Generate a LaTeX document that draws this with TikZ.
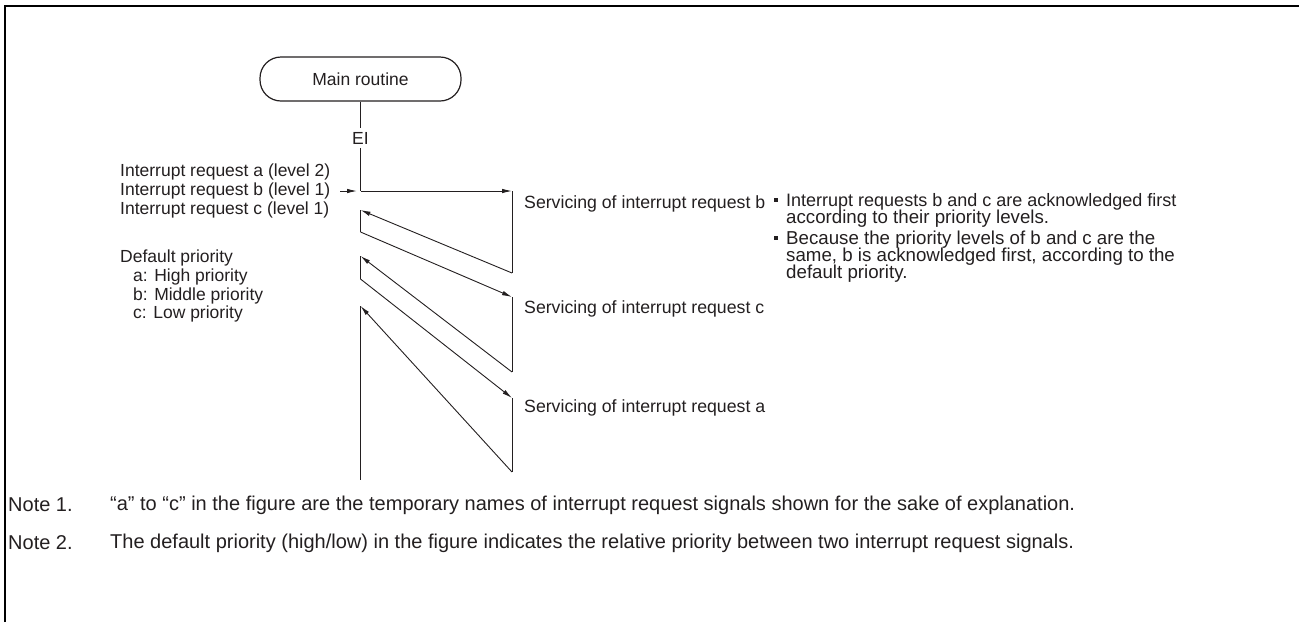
\documentclass[tikz,border=0pt]{standalone}
\usepackage{fontspec}
\setmainfont{Liberation Sans}
\usetikzlibrary{arrows.meta}
\definecolor{ink}{HTML}{231F20}
\tikzset{
  lbl/.style={anchor=west, inner sep=0pt, text=ink, font=\fontsize{17.5}{19}\selectfont},
  svc/.style={lbl, font=\fontsize{17.7}{19}\selectfont},
  bt/.style={lbl, font=\fontsize{18.7}{19}\selectfont},
  nt/.style={lbl, font=\fontsize{20}{21}\selectfont},
  ln/.style={draw=ink, line width=0.9pt},
  arr/.style={ln, -{Latex[length=10pt,width=4.5pt]}},
  frame/.style={draw=black, line width=2pt},
  bul/.style={fill=ink, minimum size=4pt, inner sep=0pt, draw=none}
}
\begin{document}
\begin{tikzpicture}[x=1pt,y=-1pt]
\useasboundingbox (0,0) rectangle (1299,622);
% frame
\draw[frame] (5,622) -- (5,6) -- (1299,6);
% main routine
\node[ln, line width=1.2pt, rounded corners=21pt, minimum width=201pt, minimum height=44pt, inner sep=0pt, text=ink, font=\fontsize{17.5}{19}\selectfont] (main) at (360.5,79) {Main routine};
\node[lbl, anchor=center, inner sep=4pt] (ei) at (360.5,138) {EI};
\coordinate (j) at (360.5,191);
\coordinate (r1t) at (512,191);
\coordinate (r1b) at (512,273);
\coordinate (l1t) at (360.5,210);
\coordinate (l1b) at (360.5,232);
\coordinate (r2t) at (512,297);
\coordinate (r2b) at (512,372);
\coordinate (l2t) at (360.5,256);
\coordinate (l2b) at (360.5,279);
\coordinate (r3t) at (512,398);
\coordinate (r3b) at (512,472);
\coordinate (l3t) at (360.5,306);
\coordinate (l3b) at (360.5,480);
\coordinate (ia) at (340,191);
\coordinate (ib) at (357,191);
% flow
\draw[ln] (main.south) -- (ei.north);
\draw[ln] (ei.south) -- (j);
\draw[arr] (j) -- (r1t);
\draw[ln] (r1t) -- (r1b);
\draw[arr] (r1b) -- (l1t);
\draw[ln] (l1t) -- (l1b);
\draw[arr] (l1b) -- (r2t);
\draw[ln] (r2t) -- (r2b);
\draw[arr] (r2b) -- (l2t);
\draw[ln] (l2t) -- (l2b);
\draw[arr] (l2b) -- (r3t);
\draw[ln] (r3t) -- (r3b);
\draw[arr] (r3b) -- (l3t);
\draw[ln] (l3t) -- (l3b);
\draw[arr] (ia) -- (ib);
% left labels
\node[lbl] (reqa) at (120,172) {Interrupt request a (level 2)};
\node[lbl] (reqb) at (120,191) {Interrupt request b (level 1)};
\node[lbl] (reqc) at (120,210) {Interrupt request c (level 1)};
\node[lbl] (dp) at (120,258) {Default priority};
\node[lbl] (dpa) at (133,277) {a: High priority};
\node[lbl] (dpb) at (133,296) {b: Middle priority};
\node[lbl] (dpc) at (133,314) {c: Low priority};
% servicing labels
\node[svc] (sb) at (524,204) {Servicing of interrupt request b};
\node[svc] (sc) at (524,309) {Servicing of interrupt request c};
\node[svc] (sa) at (524,408) {Servicing of interrupt request a};
% bullets
\node[bul] (b1) at (776,200) {};
\node[bul] (b2) at (776,238) {};
\node[lbl, font=\fontsize{18}{19}\selectfont] (t1) at (786,202) {Interrupt requests b and c are acknowledged first};
\node[bt] (t2) at (786,219) {according to their priority levels.};
\node[bt] (t3) at (786,240) {Because the priority levels of b and c are the};
\node[bt] (t4) at (786,257) {same, b is acknowledged first, according to the};
\node[bt] (t5) at (786,274) {default priority.};
% notes
\node[nt] (n1) at (8,505) {Note 1.};
\node[nt] (n1t) at (110,505) {“a” to “c” in the figure are the temporary names of interrupt request signals shown for the sake of explanation.};
\node[nt] (n2) at (8,543) {Note 2.};
\node[nt] (n2t) at (110,543) {The default priority (high/low) in the figure indicates the relative priority between two interrupt request signals.};
\end{tikzpicture}
\end{document}
